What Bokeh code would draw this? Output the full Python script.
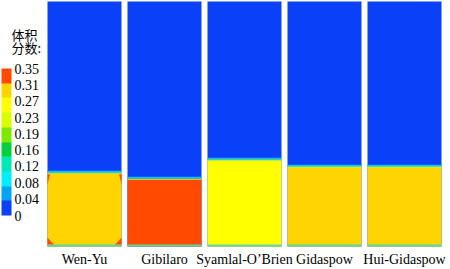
from bokeh.plotting import figure
from bokeh.models import Range1d, ColorBar, LinearColorMapper, FixedTicker, AllLabels
from bokeh.core.properties import value
from bokeh.embed import file_html
from bokeh.resources import INLINE

# ---- data ----
models = ["Wen-Yu", "Gibilaro", "Syamlal-O’Brien", "Gidaspow", "Hui-Gidaspow"]
bed_height = [0.302, 0.278, 0.355, 0.327, 0.327]      # bed surface height (fraction of column)
bed_fraction = [0.29, 0.33, 0.26, 0.29, 0.29]         # solid volume fraction in bed
tick_labels = ["0", "0.04", "0.08", "0.12", "0.16", "0.19", "0.23", "0.27", "0.31", "0.35"]
vf_low, vf_high = 0.0, 0.35
palette = ["#0a40f8", "#00a4f0", "#00ecff", "#00e8b4", "#00d040",
           "#7ee800", "#d8ff00", "#ffff00", "#ffd400", "#ff4a00"]
colorbar_title = ["体积", "分数:"]

# ---- style ----
HW = 0.4625
idx = list(range(len(models)))

def vf_color(v):
    k = int((v - vf_low) / (vf_high - vf_low) * len(palette))
    return palette[max(0, min(len(palette) - 1, k))]

p = figure(width=450, height=269, output_backend="svg", toolbar_location=None,
           x_range=Range1d(-1.05, 4.575), y_range=Range1d(-0.0939, 1.004),
           min_border=0, min_border_left=0, min_border_right=0,
           min_border_top=0, min_border_bottom=0)
p.xaxis.visible = False
p.yaxis.visible = False
p.grid.visible = False
p.outline_line_color = None
p.background_fill_color = "white"
p.border_fill_color = "white"

left = [i - HW for i in idx]
right = [i + HW for i in idx]

# column (gas region)
p.quad(left=left, right=right, bottom=[0] * 5, top=[1] * 5,
       fill_color=palette[0], line_color=None)
# bed
p.quad(left=left, right=right, bottom=[0] * 5, top=bed_height,
       fill_color=[vf_color(v) for v in bed_fraction], line_color=None)
# interface transition layers
p.quad(left=left, right=right, bottom=bed_height, top=[h + 0.007 for h in bed_height],
       fill_color="#10c0f0", line_color=None)
p.quad(left=left, right=right, bottom=[h - 0.004 for h in bed_height], top=bed_height,
       fill_color="#50e0a0", line_color=None)
p.quad(left=left, right=right, bottom=[h - 0.007 for h in bed_height],
       top=[h - 0.004 for h in bed_height],
       fill_color="#c8f040", line_color=None)
# bottom wall layer
p.quad(left=left, right=right, bottom=[0] * 5, top=[0.008] * 5,
       fill_color="#60d8a0", line_color=None)

# Wen-Yu corner high-fraction regions
i0 = 0
h0 = bed_height[i0]
cw, ch = 0.08, 0.028
cxs = [
    [left[i0], left[i0] + cw, left[i0]],
    [right[i0], right[i0] - cw, right[i0]],
    [left[i0], left[i0] + 0.03, left[i0]],
    [right[i0], right[i0] - 0.03, right[i0]],
]
cys = [
    [0.008, 0.008, 0.008 + ch],
    [0.008, 0.008, 0.008 + ch],
    [h0 - 0.007, h0 - 0.007, h0 - 0.05],
    [h0 - 0.007, h0 - 0.007, h0 - 0.05],
]
p.patches(cxs, cys, fill_color=palette[-1], line_color=None)

# model labels
p.text(x=idx, y=[-0.053] * 5, text=models, text_align="center", text_baseline="middle",
       text_font=value("Liberation Serif"), text_font_size=value("14px"), text_color="black")

# colorbar title
p.text(x=[-0.9125, -0.9125], y=[0.865, 0.812], text=colorbar_title, text_align="left",
       text_baseline="middle", text_font=value("Noto Sans CJK SC"),
       text_font_size=value("13px"), text_color="black")

mapper = LinearColorMapper(palette=palette, low=vf_low, high=vf_high)
n = len(tick_labels) - 1
ticks = [round(vf_low + k * (vf_high - vf_low) / n, 6) for k in range(n + 1)]
cb = ColorBar(color_mapper=mapper, ticker=FixedTicker(ticks=ticks),
              major_label_overrides={t: lab for t, lab in zip(ticks, tick_labels)},
              major_label_policy=AllLabels(),
              location=(1, 54), width=10, height=147, padding=0, margin=0,
              label_standoff=3, major_tick_line_color=None, minor_tick_line_color=None,
              bar_line_color=None, border_line_color=None, background_fill_alpha=0,
              major_label_text_font="Liberation Serif", major_label_text_font_size="14px",
              major_label_text_color="black")
p.add_layout(cb, "center")

open("out.html", "w").write(file_html(p, INLINE))
